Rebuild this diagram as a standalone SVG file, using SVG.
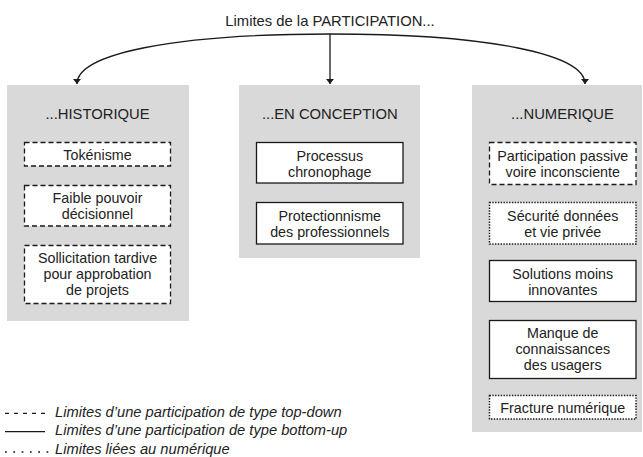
<svg xmlns="http://www.w3.org/2000/svg" width="643" height="457" viewBox="0 0 643 457">
<style>
.bg{fill:#d9d9d9}
.box{fill:#fff;stroke:#1a1a1a;stroke-width:1.3}
.dash{stroke-dasharray:5 3}
.dot{stroke-dasharray:1.4 1.4;stroke-width:1.5}
text{font-family:"Liberation Sans",Arial,Helvetica,sans-serif;font-size:14.3px;fill:#222;text-anchor:middle}
.hd{font-size:14.8px}
.leg{font-style:italic;text-anchor:start;font-size:14.7px}
.conn{fill:none;stroke:#1a1a1a;stroke-width:1.3}
</style>
<defs>
<marker id="ah" viewBox="0 0 5 8" markerWidth="5" markerHeight="8" refX="5" refY="4" orient="auto" markerUnits="userSpaceOnUse">
<path d="M0,0 L5,4 L0,8 z" fill="#1a1a1a"/>
</marker>
</defs>

<g id="title">
<text class="hd" x="330" y="26">Limites de la PARTICIPATION...</text>
</g>

<g id="connectors">
<path class="conn" d="M330,34 C172,34 77,54 77,84" marker-end="url(#ah)"/>
<path class="conn" d="M330,34 L330,84" marker-end="url(#ah)"/>
<path class="conn" d="M330,34 C488,34 585,54 585,84" marker-end="url(#ah)"/>
</g>

<g id="historique">
<rect class="bg" x="7" y="85" width="182" height="236"/>
<text class="hd" x="97.5" y="119">...HISTORIQUE</text>
<g id="tokenisme">
<rect class="box dash" x="24.5" y="142.5" width="146" height="23.5"/>
<text x="97.5" y="159.5">Tokénisme</text>
</g>
<g id="faible-pouvoir">
<rect class="box dash" x="24.5" y="185.5" width="146" height="40.5"/>
<text x="97.5" y="203">Faible pouvoir</text>
<text x="97.5" y="219">décisionnel</text>
</g>
<g id="sollicitation">
<rect class="box dash" x="24.5" y="245.5" width="146" height="58"/>
<text x="97.5" y="263.25">Sollicitation tardive</text>
<text x="97.5" y="279.25">pour approbation</text>
<text x="97.5" y="295.25">de projets</text>
</g>
</g>

<g id="conception">
<rect class="bg" x="239" y="85" width="181" height="173"/>
<text class="hd" x="329.75" y="119">...EN CONCEPTION</text>
<g id="processus">
<rect class="box" x="256.5" y="142.5" width="146.5" height="40.5"/>
<text x="329.75" y="160.5">Processus</text>
<text x="329.75" y="176.5">chronophage</text>
</g>
<g id="protectionnisme">
<rect class="box" x="256.5" y="202.5" width="146.5" height="41.5"/>
<text x="329.75" y="221">Protectionnisme</text>
<text x="329.75" y="237">des professionnels</text>
</g>
</g>

<g id="numerique">
<rect class="bg" x="472" y="85" width="170" height="347"/>
<text class="hd" x="562.5" y="119">...NUMERIQUE</text>
<g id="participation-passive">
<rect class="box dash" x="489.5" y="142.5" width="146.5" height="42"/>
<text x="562.75" y="160.5">Participation passive</text>
<text x="562.75" y="176.5">voire inconsciente</text>
</g>
<g id="securite">
<rect class="box dot" x="489.5" y="202.5" width="146.5" height="41.5"/>
<text x="562.75" y="221">Sécurité données</text>
<text x="562.75" y="237">et vie privée</text>
</g>
<g id="solutions">
<rect class="box" x="489.5" y="260.5" width="146.5" height="41"/>
<text x="562.75" y="278.75">Solutions moins</text>
<text x="562.75" y="294.75">innovantes</text>
</g>
<g id="manque">
<rect class="box" x="489.5" y="320.5" width="146.5" height="58"/>
<text x="562.75" y="337.7">Manque de</text>
<text x="562.75" y="353.7">connaissances</text>
<text x="562.75" y="369.7">des usagers</text>
</g>
<g id="fracture">
<rect class="box dot" x="489.5" y="395.5" width="146.5" height="23.5"/>
<text x="562.75" y="412.5">Fracture numérique</text>
</g>
</g>

<g id="legend">
<line class="conn" x1="5" y1="413.3" x2="49" y2="413.3" stroke-dasharray="4 5"/>
<text class="leg" x="55" y="416.7">Limites d’une participation de type top-down</text>
<line class="conn" x1="5" y1="431.7" x2="45" y2="431.7"/>
<text class="leg" x="55" y="435.3">Limites d’une participation de type bottom-up</text>
<line class="conn" x1="5" y1="452" x2="49" y2="452" stroke-width="1.8" stroke-dasharray="1.8 6.5"/>
<text class="leg" x="55" y="454.3">Limites liées au numérique</text>
</g>
</svg>
